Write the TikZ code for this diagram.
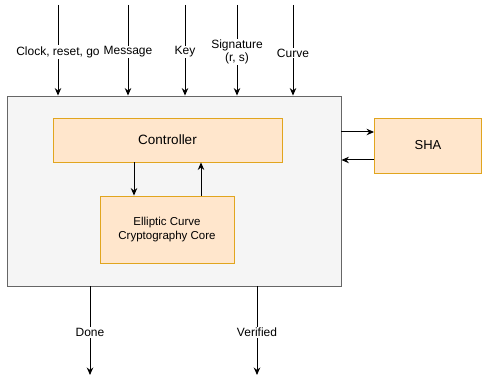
\documentclass[tikz,border=0pt]{standalone}
\usepackage{fontspec}
\setmainfont{Liberation Sans}
\usetikzlibrary{arrows.meta,calc,positioning}

\definecolor{blockfill}{HTML}{FFE6CC}
\definecolor{blockdraw}{RGB}{225,165,30}
\definecolor{corefill}{HTML}{F5F5F5}
\definecolor{coredraw}{HTML}{666666}

\begin{document}
\begin{tikzpicture}[
    x=1pt, y=-1pt,
    >={Stealth[length=7.5pt, width=6.5pt]},
    font=\fontsize{12}{13.5}\selectfont,
    arr/.style={->, line width=1pt},
    corebox/.style={draw=coredraw, fill=corefill, line width=0.9pt,
                    minimum width=334pt, minimum height=190pt, inner sep=0pt},
    unit/.style={draw=blockdraw, fill=blockfill, line width=0.9pt, align=center,
                 inner sep=2pt},
    lbl/.style={fill=white, inner sep=1pt, align=center}
]
\useasboundingbox (0,0) rectangle (482,379);

% ---- io x-positions ----
\def\xClk{58}
\def\xMsg{128}
\def\xKey{185}
\def\xSig{237}
\def\xCrv{293}
\def\xDone{90}
\def\xVer{257}

% ===== TOP LEVEL =====
\node[corebox] (core) at (174,191) {};

\node[unit, minimum width=229pt, minimum height=44pt,
      font=\fontsize{13.5}{15}\selectfont] (ctrl) at (167.5,140) {Controller};
\node[unit, minimum width=134pt, minimum height=67pt,
      font=\fontsize{11.5}{14}\selectfont] (ecc)  at (167,229.5)
    {Elliptic Curve\\Cryptography Core};
\node[unit, minimum width=107pt, minimum height=55pt,
      font=\fontsize{13}{15}\selectfont] (sha)  at (428,145.5) {SHA};

% controller <-> core
\draw[arr] ([xshift=-33.5pt]ctrl.south) -- ([xshift=-33.5pt]ctrl.south |- ecc.north);
\draw[arr] ([xshift=34pt]ecc.north) -- ([xshift=34pt]ecc.north |- ctrl.south);

% sha link
\draw[arr] ($(core.east)+(0,-59)$) -- ($(sha.west)+(0,-13.5)$);
\draw[arr] ($(sha.west)+(0,14.5)$) -- ($(core.east)+(0,-31)$);

% ===== INPUTS =====
\coordinate (inClk) at (\xClk,5);
\coordinate (inMsg) at (\xMsg,5);
\coordinate (inKey) at (\xKey,5);
\coordinate (inSig) at (\xSig,5);
\coordinate (inCrv) at (\xCrv,5);

\draw[arr] (inClk) -- (inClk |- core.north) node[lbl, pos=0.52] {Clock, reset, go};
\draw[arr] (inMsg) -- (inMsg |- core.north) node[lbl, pos=0.52] {Message};
\draw[arr] (inKey) -- (inKey |- core.north) node[lbl, pos=0.52] {Key};
\draw[arr] (inSig) -- (inSig |- core.north) node[lbl, pos=0.52] {Signature\\(r, s)};
\draw[arr] (inCrv) -- (inCrv |- core.north) node[lbl, pos=0.53] {Curve};

% ===== OUTPUTS =====
\coordinate (outDone) at (\xDone,375);
\coordinate (outVer)  at (\xVer,375);

\draw[arr] (outDone |- core.south) -- (outDone) node[lbl, pos=0.52] {Done};
\draw[arr] (outVer |- core.south)  -- (outVer)  node[lbl, pos=0.52] {Verified};

\end{tikzpicture}
\end{document}
